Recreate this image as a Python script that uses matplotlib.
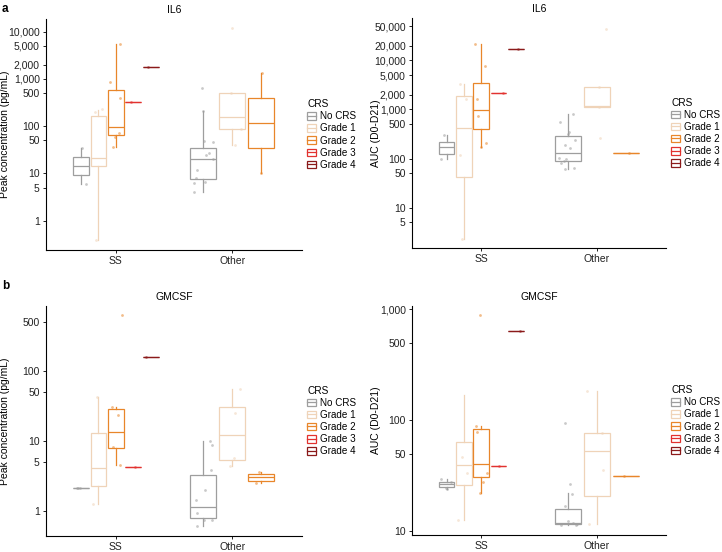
import numpy as np
import matplotlib
matplotlib.use("Agg")
import matplotlib.pyplot as plt
from matplotlib.patches import Rectangle
from matplotlib.lines import Line2D
from matplotlib.ticker import FixedLocator, FixedFormatter, NullLocator

plt.rcParams["font.family"] = ["Liberation Sans", "DejaVu Sans"]
plt.rcParams["font.size"] = 7.5

COHORTS = ["SS", "Other"]
GRADES = ["No CRS", "Grade 1", "Grade 2", "Grade 3", "Grade 4"]
GRADE_COLORS = ["#9e9e9e", "#efd3b8", "#e8862a", "#e2322f", "#8b1a1a"]

# box stats per grade: (low whisker, q1, median, q3, high whisker); None = no patients
il6_peak_ss = [(6.0, 9.1, 14.4, 22, 35), (0.40, 14.4, 21, 164, 220),
               (37, 65, 98, 584, 5490), (330,) * 5, (1820,) * 5]
il6_peak_other = [(4.1, 7.5, 19.9, 35, 213), (40, 86, 159, 497, 497),
                  (10, 34, 115, 390, 1320), None, None]
il6_auc_ss = [(96, 125, 172, 218, 307), (2.3, 42.8, 426, 1910, 3260),
              (170, 395, 977, 3420, 21300), (2200,) * 5, (17100,) * 5]
il6_auc_other = [(61, 89, 132, 289, 798), (1110, 1110, 1170, 2910, 2910),
                 (132,) * 5, None, None]
gmcsf_peak_ss = [(2.15,) * 5, (1.26, 2.27, 4.07, 13.1, 42.7),
                 (4.5, 8.0, 13.5, 28.2, 30), (4.2,) * 5, (156,) * 5]
gmcsf_peak_other = [(0.62, 0.79, 1.15, 3.3, 10), (4.4, 5.3, 12.0, 30.2, 54.5),
                    (2.53, 2.71, 3.03, 3.34, 3.56), None, None]
gmcsf_auc_ss = [(23.9, 25.2, 26.7, 28.0, 29.4), (12.6, 25.9, 39.5, 64, 169),
                (22.3, 30.6, 40.2, 83, 89), (38.7,) * 5, (634,) * 5]
gmcsf_auc_other = [(11.3, 11.6, 11.9, 15.8, 22), (11.6, 20.8, 52.8, 77, 184),
                   (31.5,) * 5, None, None]

# individual patient values per grade
il6_peak_ss_pts = [[35, 6.0], [230, 200, 0.40], [5490, 875, 390, 73, 60, 37], [330], [1820]]
il6_peak_other_pts = [[636, 213, 49, 47, 26.7, 24.6, 20, 11.8, 7.9, 6.7, 6.2, 4.1],
                      [11800, 500, 86, 40], [1320, 10], [], []]
il6_auc_ss_pts = [[307, 96], [3260, 1640, 118, 2.3], [21300, 7690, 1630, 748, 211, 170],
                  [2200], [17100]]
il6_auc_other_pts = [[798, 565, 344, 313, 239, 189, 162, 104, 98, 89, 81, 63, 61],
                     [43600, 2910, 1140, 267], [132], [], []]
gmcsf_peak_ss_pts = [[2.15, 2.15, 2.15], [42.7, 1.26], [625, 30, 23.4, 8.2, 4.5], [4.2], [156]]
gmcsf_peak_other_pts = [[10, 8.7, 3.85, 2.0, 1.43, 0.93, 0.74, 0.74, 0.62],
                        [54.5, 24.8, 5.7, 4.4], [3.56, 2.53], [], []]
gmcsf_auc_ss_pts = [[29.4, 28, 24.4, 24.0], [47, 33.3, 12.6], [890, 89, 79, 33.7, 28, 22.3],
                    [38.7], [634]]
gmcsf_auc_other_pts = [[94, 26.5, 21.8, 16.9, 12.4, 11.8, 11.3, 11.3, 11.6],
                       [184, 77, 36, 11.6], [31.5], [], []]

il6_peak_ticks = [1, 5, 10, 50, 100, 500, 1000, 2000, 5000, 10000]
il6_auc_ticks = [5, 10, 50, 100, 500, 1000, 2000, 5000, 10000, 20000, 50000]
gmcsf_peak_ticks = [1, 5, 10, 50, 100, 500]
gmcsf_auc_ticks = [10, 50, 100, 500, 1000]

rng = np.random.default_rng(7)


def draw_panel(ax, title, ylabel, ss_stats, other_stats, ss_pts, other_pts, ticks, ylim, label_x):
    for ci, (stats, pts) in enumerate([(ss_stats, ss_pts), (other_stats, other_pts)]):
        present = [g for g in range(len(GRADES)) if stats[g] is not None]
        n = len(present)
        step = 0.75 / n
        for k, g in enumerate(present):
            x = ci + 1 + (k - (n - 1) / 2) * step
            lo, q1, med, q3, hi = stats[g]
            col = GRADE_COLORS[g]
            bx = {"whislo": lo, "q1": q1, "med": med, "q3": q3, "whishi": hi}
            ax.bxp([bx], positions=[x], widths=step * 0.9, showcaps=False,
                   showfliers=False, patch_artist=True,
                   boxprops=dict(facecolor="none", edgecolor=col, linewidth=0.9),
                   medianprops=dict(color=col, linewidth=0.9),
                   whiskerprops=dict(color=col, linewidth=0.9))
            vals = pts[g]
            if vals:
                jit = rng.uniform(-0.35, 0.35, len(vals)) * step
                ax.scatter(x + jit, vals, s=4, color=col, alpha=0.55,
                           linewidths=0, zorder=3)
    ax.set_yscale("log")
    ax.set_ylim(*ylim)
    ax.set_xlim(0.4, 2.6)
    ax.set_xticks([1, 2])
    ax.set_xticklabels(COHORTS)
    ax.yaxis.set_major_locator(FixedLocator(ticks))
    ax.yaxis.set_major_formatter(FixedFormatter([f"{t:,}" for t in ticks]))
    ax.yaxis.set_minor_locator(NullLocator())
    ax.set_title(title, fontsize=7.5, pad=4)
    ax.set_ylabel(ylabel)
    ax.yaxis.set_label_coords(label_x, 0.5)
    for s in ["top", "right"]:
        ax.spines[s].set_visible(False)
    for s in ["left", "bottom"]:
        ax.spines[s].set_linewidth(0.8)
    ax.tick_params(length=2.5, width=0.7, labelsize=7.5, pad=2, colors="#222222")

    handles = [(Rectangle((0, 0), 1, 1, facecolor="white", edgecolor=c, linewidth=0.9),
                Line2D([], [], color=c, linewidth=0.9)) for c in GRADE_COLORS]
    ax.legend(handles, GRADES, title="CRS", loc="center left", bbox_to_anchor=(1.0, 0.5),
              frameon=False, fontsize=7.1, title_fontsize=7.3, handlelength=0.9,
              handleheight=0.8, handletextpad=0.4, labelspacing=0.22,
              alignment="left", borderaxespad=0.15)


fig = plt.figure(figsize=(7.22, 5.52), dpi=100)
W, H = 722, 552


def add_axes(x0, x1, y0, y1):
    return fig.add_axes([x0 / W, 1 - y1 / H, (x1 - x0) / W, (y1 - y0) / H])


ax1 = add_axes(46, 302, 19, 250)
ax2 = add_axes(412, 666, 18, 248)
ax3 = add_axes(46, 302, 306, 536)
ax4 = add_axes(412, 666, 306, 535)

draw_panel(ax1, "IL6", "Peak concentration (pg/mL)", il6_peak_ss, il6_peak_other,
           il6_peak_ss_pts, il6_peak_other_pts, il6_peak_ticks, (0.24, 18600), -0.141)
draw_panel(ax2, "IL6", "AUC (D0-D21)", il6_auc_ss, il6_auc_other,
           il6_auc_ss_pts, il6_auc_other_pts, il6_auc_ticks, (1.51, 73000), -0.122)
draw_panel(ax3, "GMCSF", "Peak concentration (pg/mL)", gmcsf_peak_ss, gmcsf_peak_other,
           gmcsf_peak_ss_pts, gmcsf_peak_other_pts, gmcsf_peak_ticks, (0.44, 840), -0.141)
draw_panel(ax4, "GMCSF", "AUC (D0-D21)", gmcsf_auc_ss, gmcsf_auc_other,
           gmcsf_auc_ss_pts, gmcsf_auc_other_pts, gmcsf_auc_ticks, (9.26, 1072), -0.122)

fig.text(2 / W, 1 - 9 / H, "a", fontsize=8.5, fontweight="bold", va="center")
fig.text(2 / W, 1 - 286 / H, "b", fontsize=8.5, fontweight="bold", va="center")

fig.savefig("out.png", dpi=100)
